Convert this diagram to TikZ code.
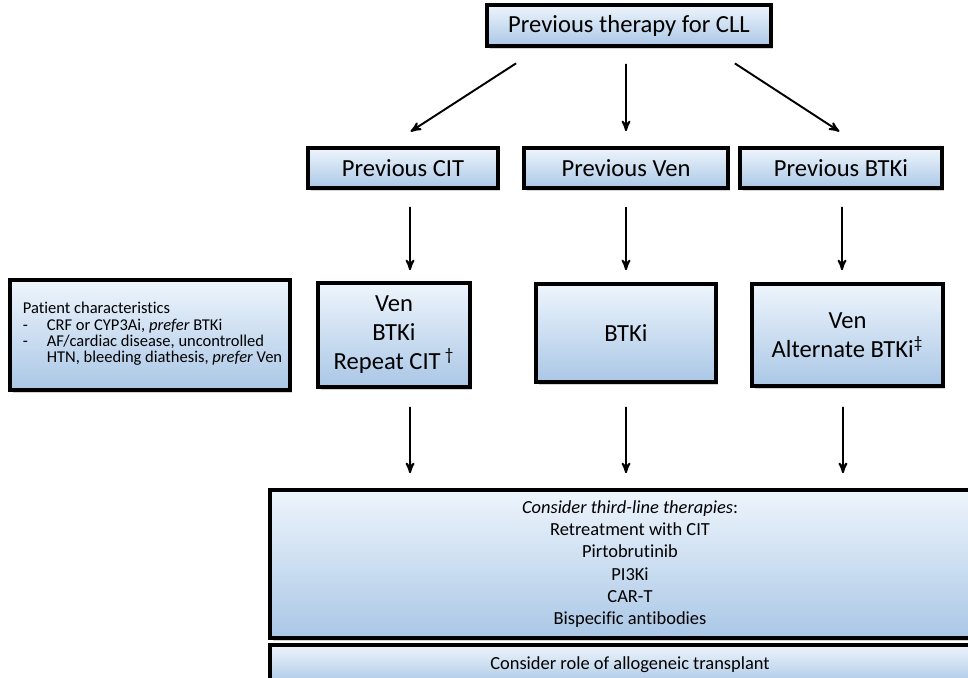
\documentclass[tikz,border=0pt]{standalone}
\usepackage{fontspec}
\setmainfont{Carlito}[Ligatures={NoCommon}]
\usepackage{tikz}
\usetikzlibrary{arrows,positioning,calc,shadows}
\definecolor{boxtop}{RGB}{238,245,252}
\definecolor{boxbot}{RGB}{170,199,230}
\tikzset{
  stage/.style={draw, line width=2.1pt, top color=boxtop, bottom color=boxbot,
    drop shadow={shadow xshift=0.05cm, shadow yshift=-0.06cm, opacity=0.35},
    font=\fontsize{14}{16.5}\selectfont, align=center, inner sep=0pt},
  small/.style={font=\fontsize{10.5}{12.7}\selectfont}
}

\begin{document}
\begin{tikzpicture}[->,>=stealth',line width=1.1pt,x=0.02cm,y=-0.02cm]
    \useasboundingbox (0,0) rectangle (968,677);

    \node[stage, minimum width=5.68cm, minimum height=0.82cm] (prev) at (629,25.5) {Previous therapy for CLL};

    \node[stage, minimum width=3.8cm,  minimum height=0.8cm]  (cit)  at (403,168) {Previous CIT};
    \node[stage, minimum width=4.08cm, minimum height=0.8cm]  (ven)  at (626,168) {Previous Ven};
    \node[stage, minimum width=4.04cm, minimum height=0.8cm]  (btk)  at (841,168) {Previous BTKi};

    \node[stage, minimum width=3.04cm, minimum height=2.08cm] (optcit) at (394,335) {Ven\\BTKi\\Repeat CIT\,\textsuperscript{†}};
    \node[stage, minimum width=3.6cm,  minimum height=1.96cm] (optven) at (626,333) {BTKi};
    \node[stage, minimum width=3.82cm, minimum height=2.04cm] (optbtk) at (847.5,335) {Ven\\Alternate BTKi\textsuperscript{‡}};

    \node[stage, minimum width=5.6cm, minimum height=2.2cm, font=\fontsize{9.4}{9.1}\selectfont] (pat) at (150,335)
         {\begin{tabular}{@{\hspace{0.1cm}}p{0.48cm}@{}l@{}}
          \multicolumn{2}{@{\hspace{0.1cm}}l@{}}{Patient characteristics}\\
          -& CRF or CYP3Ai, \textit{prefer} BTKi\\
          -& AF/cardiac disease, uncontrolled\\
           & HTN, bleeding diathesis, \textit{prefer} Ven
          \end{tabular}};

    \node[stage, small, minimum width=14.4cm, minimum height=2.96cm] (third) at (630,564)
         {\textit{Consider third-line therapies}:\\Retreatment with CIT\\Pirtobrutinib\\PI3Ki\\CAR-T\\Bispecific antibodies};
    \node[stage, small, minimum width=14.4cm, minimum height=0.8cm] (allo) at (630,665) {Consider role of allogeneic transplant};

    \path ([xshift=-1.78cm]prev.south) edge[shorten <=0.57cm, shorten >=0.54cm] ([xshift=-0.3cm]cit.north)
    ([xshift=-0.06cm]prev.south) edge[shorten <=0.32cm, shorten >=0.3cm] (ven.north)
    ([xshift=1.64cm]prev.south)  edge[shorten <=0.57cm, shorten >=0.54cm] ([xshift=0.42cm]btk.north);

    \path ([xshift=0.14cm]cit.south) edge[shorten <=0.34cm, shorten >=0.22cm] ([xshift=0.32cm]optcit.north)
    (ven.south) edge[shorten <=0.34cm, shorten >=0.24cm] (optven.north)
    ([xshift=0.02cm]btk.south) edge[shorten <=0.34cm, shorten >=0.24cm] ([xshift=-0.11cm]optbtk.north);

    \path ([xshift=0.32cm]optcit.south) edge[shorten <=0.36cm, shorten >=0.3cm] ([xshift=-4.4cm]third.north)
    (optven.south) edge[shorten <=0.46cm, shorten >=0.3cm] ([xshift=-0.08cm]third.north)
    ([xshift=-0.09cm]optbtk.south) edge[shorten <=0.38cm, shorten >=0.3cm] ([xshift=4.26cm]third.north);
\end{tikzpicture}
\end{document}
